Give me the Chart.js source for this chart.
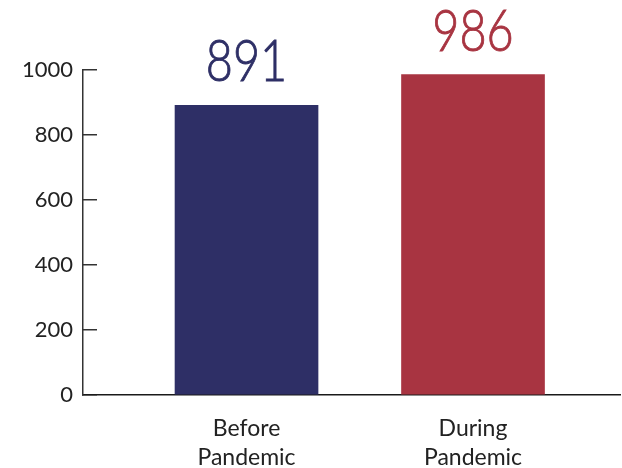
<!DOCTYPE html>
<html>
<head>
<meta charset="utf-8">
<script src="https://cdn.jsdelivr.net/npm/chart.js@4"></script>
<style>
  html, body { margin: 0; padding: 0; background: #ffffff; }
  #wrap { width: 622px; height: 468px; position: relative; }
</style>
</head>
<body>
<div id="wrap"><canvas id="c" width="622" height="468"></canvas></div>
<script>
const categories = [["Before", "Pandemic"], ["During", "Pandemic"]];
const values = [891, 986];
const barColors = ["#2e2f66", "#a83441"];
const yTicks = [0, 200, 400, 600, 800, 1000];

const valueLabels = {
  id: 'valueLabels',
  afterDatasetsDraw(chart) {
    const ctx = chart.ctx;
    const meta = chart.getDatasetMeta(0);
    meta.data.forEach((bar, i) => {
      ctx.save();
      ctx.fillStyle = barColors[i];
      ctx.strokeStyle = barColors[i];
      ctx.lineWidth = 0.9;
      ctx.font = '300 57px Lato, "Noto Sans", sans-serif';
      ctx.textAlign = 'center';
      ctx.textBaseline = 'alphabetic';
      ctx.translate(bar.x, bar.y - 24);
      ctx.scale(0.82, 1);
      ctx.fillText(String(values[i]), 0, 0);
      ctx.strokeText(String(values[i]), 0, 0);
      ctx.restore();
    });
  }
};

new Chart(document.getElementById('c'), {
  type: 'bar',
  data: {
    datasets: [{
      data: values.map((v, i) => ({ x: i + 1, y: v })),
      backgroundColor: barColors,
      barThickness: 143,
      borderWidth: 0
    }]
  },
  options: {
    responsive: false,
    animation: false,
    plugins: { legend: { display: false }, tooltip: { enabled: false } },
    layout: { padding: { top: 70, right: 2, left: 0, bottom: 0 } },
    scales: {
      x: {
        type: 'linear',
        offset: false,
        bounds: 'data',
        min: 0.278,
        max: 2.649,
        afterBuildTicks(scale) { scale.ticks = categories.map((c, i) => ({ value: i + 1 })); },
        afterFit(scale) { scale.height = 73; },
        grid: { display: false, drawTicks: false, offset: false },
        border: { display: true, color: '#1a1a1a', width: 1.5 },
        ticks: {
          padding: 20,
          color: '#222',
          font: { family: 'Lato, "Noto Sans", sans-serif', size: 23, lineHeight: 1.22 },
          callback(v) { return categories[v - 1]; }
        }
      },
      y: {
        min: 0,
        max: 1000,
        afterBuildTicks(scale) { scale.ticks = yTicks.map(v => ({ value: v })); },
        afterFit(scale) { scale.width = 83; },
        grid: { display: true, drawOnChartArea: false, drawTicks: true, tickLength: -14, color: '#333', lineWidth: 1.5 },
        border: { display: true, color: '#333', width: 1.5 },
        ticks: {
          padding: 24,
          color: '#222',
          font: { family: 'Lato, "Noto Sans", sans-serif', size: 22 },
          callback(v) { return String(v); }
        }
      }
    }
  },
  plugins: [valueLabels]
});
</script>
</body>
</html>
